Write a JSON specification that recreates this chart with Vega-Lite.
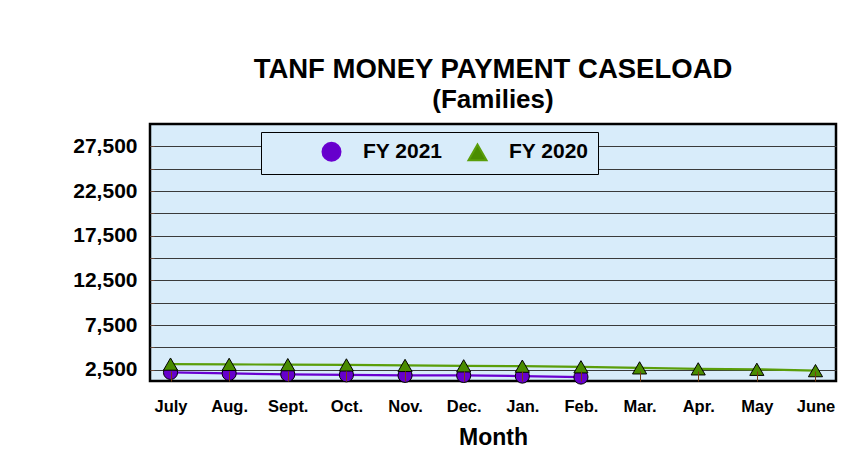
{
  "$schema": "https://vega.github.io/schema/vega-lite/v6.json",
  "width": 686,
  "height": 257,
  "autosize": {"type": "none"},
  "padding": {"left": 150, "top": 124, "right": 20, "bottom": 89},
  "background": "white",
  "config": {
    "font": "Liberation Sans",
    "view": {"fill": "#D8ECFA", "stroke": "#000000", "strokeWidth": 2.5}
  },
  "title": {
    "text": "TANF MONEY PAYMENT CASELOAD",
    "subtitle": "(Families)",
    "fontSize": 27.5,
    "subtitleFontSize": 26,
    "fontWeight": "bold",
    "subtitleFontWeight": "bold",
    "color": "#000000",
    "subtitleColor": "#000000",
    "anchor": "middle",
    "offset": 11,
    "subtitlePadding": 4
  },
  "data": {
    "values": [
      {"month": "July", "series": "FY 2021", "caseload": 2210},
      {"month": "Aug.", "series": "FY 2021", "caseload": 2100},
      {"month": "Sept.", "series": "FY 2021", "caseload": 1990},
      {"month": "Oct.", "series": "FY 2021", "caseload": 1940},
      {"month": "Nov.", "series": "FY 2021", "caseload": 1880},
      {"month": "Dec.", "series": "FY 2021", "caseload": 1870},
      {"month": "Jan.", "series": "FY 2021", "caseload": 1800},
      {"month": "Feb.", "series": "FY 2021", "caseload": 1690},
      {"month": "July", "series": "FY 2020", "caseload": 3140},
      {"month": "Aug.", "series": "FY 2020", "caseload": 3110},
      {"month": "Sept.", "series": "FY 2020", "caseload": 3080},
      {"month": "Oct.", "series": "FY 2020", "caseload": 3050},
      {"month": "Nov.", "series": "FY 2020", "caseload": 2990},
      {"month": "Dec.", "series": "FY 2020", "caseload": 2950},
      {"month": "Jan.", "series": "FY 2020", "caseload": 2910},
      {"month": "Feb.", "series": "FY 2020", "caseload": 2840},
      {"month": "Mar.", "series": "FY 2020", "caseload": 2720},
      {"month": "Apr.", "series": "FY 2020", "caseload": 2610},
      {"month": "May", "series": "FY 2020", "caseload": 2560},
      {"month": "June", "series": "FY 2020", "caseload": 2410}
    ]
  },
  "encoding": {
    "x": {
      "field": "month",
      "type": "ordinal",
      "sort": ["July", "Aug.", "Sept.", "Oct.", "Nov.", "Dec.", "Jan.", "Feb.", "Mar.", "Apr.", "May", "June"],
      "scale": {"type": "point", "padding": 0.35},
      "axis": {
        "title": "Month",
        "titleFontSize": 23,
        "titleFontWeight": "bold",
        "titleColor": "#000000",
        "titlePadding": 12,
        "labelAngle": 0,
        "labelFontSize": 16.5,
        "labelFontWeight": "bold",
        "labelColor": "#000000",
        "labelPadding": 27,
        "domain": false,
        "grid": false,
        "ticks": true,
        "tickSize": -10,
        "tickColor": "#7A3E10",
        "tickWidth": 1,
        "zindex": 1
      }
    },
    "y": {
      "field": "caseload",
      "type": "quantitative",
      "scale": {"domain": [1250, 30000], "nice": false, "zero": false},
      "axis": {
        "title": null,
        "values": [2500, 5000, 7500, 10000, 12500, 15000, 17500, 20000, 22500, 25000, 27500],
        "format": ",d",
        "labelExpr": "datum.value % 5000 == 2500 ? datum.label : ''",
        "labelFontSize": 21,
        "labelFontWeight": "bold",
        "labelColor": "#000000",
        "labelPadding": 17,
        "domain": false,
        "grid": true,
        "gridColor": "#3A3A3A",
        "gridWidth": 1,
        "gridOpacity": 1,
        "ticks": true,
        "tickSize": -4,
        "tickColor": "#6B4A3A",
        "tickWidth": 1
      }
    }
  },
  "layer": [
    {
      "mark": {"type": "line", "strokeWidth": 2.2},
      "encoding": {
        "stroke": {
          "field": "series",
          "type": "nominal",
          "scale": {"domain": ["FY 2021", "FY 2020"], "range": ["#6A00D0", "#5A9E0A"]}
        }
      }
    },
    {
      "mark": {"type": "point", "filled": true, "size": 200, "stroke": "#000000", "strokeWidth": 1, "opacity": 1},
      "encoding": {
        "shape": {
          "field": "series",
          "type": "nominal",
          "scale": {"domain": ["FY 2021", "FY 2020"], "range": ["circle", "triangle-up"]}
        },
        "fill": {
          "field": "series",
          "type": "nominal",
          "scale": {"domain": ["FY 2021", "FY 2020"], "range": ["#6600CC", "#4A8C00"]},
          "legend": {
            "orient": "none",
            "legendX": 111,
            "legendY": 8,
            "direction": "horizontal",
            "title": " ",
            "titleOrient": "left",
            "titleFontSize": 21,
            "titlePadding": 39,
            "padding": 9,
            "fillColor": "#D8ECFA",
            "strokeColor": "#000000",
            "labelFontSize": 21,
            "labelFontWeight": "bold",
            "labelColor": "#000000",
            "labelOffset": 21,
            "columnPadding": 12,
            "symbolOffset": 12,
            "symbolSize": 324,
            "symbolStrokeWidth": 2
          }
        }
      }
    }
  ]
}
